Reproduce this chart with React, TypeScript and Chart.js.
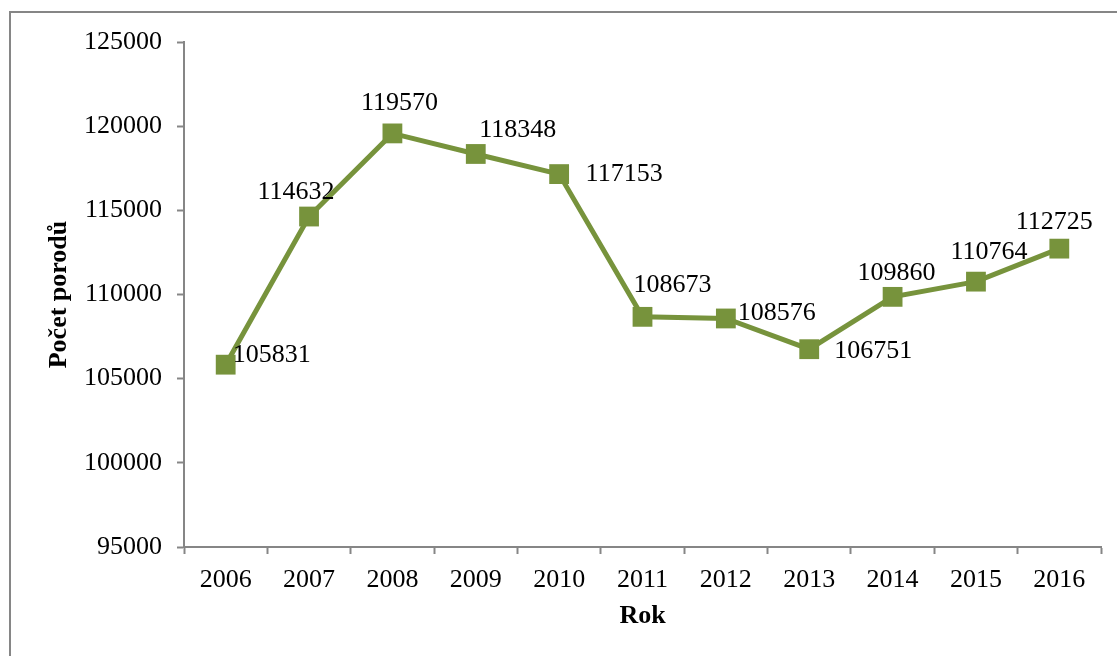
import { useEffect, useRef } from 'react';
import { Chart, registerables } from 'chart.js';

Chart.register(...registerables);

// Number of births per year
const years = ['2006', '2007', '2008', '2009', '2010', '2011', '2012', '2013', '2014', '2015', '2016'];
const births = [105831, 114632, 119570, 118348, 117153, 108673, 108576, 106751, 109860, 110764, 112725];

const yMin = 95000;
const yMax = 125000;
const yStep = 5000;

// Value label placement relative to each marker (dx, dy in px)
const labelOffsets: [number, number][] = [
  [46, -10], [-13, -24], [7, -30], [42, -24], [65, 0], [30, -32],
  [51, -5], [64, 1.5], [4, -24], [13, -29], [-5, -26],
];

const FONT = "'Liberation Serif', 'Times New Roman', serif";
const LINE_COLOR = '#77933C';
const AXIS_COLOR = '#868686';

const frame = {
  id: 'frame',
  beforeDraw(chart: Chart) {
    const ctx = chart.ctx;
    ctx.save();
    ctx.fillStyle = '#ffffff';
    ctx.fillRect(0, 0, chart.width, chart.height);
    ctx.strokeStyle = AXIS_COLOR;
    ctx.lineWidth = 2;
    ctx.strokeRect(10, 12, chart.width + 100, chart.height + 100);
    ctx.restore();
  },
};

const valueLabels = {
  id: 'valueLabels',
  afterDatasetsDraw(chart: Chart) {
    const ctx = chart.ctx;
    const meta = chart.getDatasetMeta(0);
    const values = chart.data.datasets[0].data as number[];
    ctx.save();
    ctx.font = `26px ${FONT}`;
    ctx.fillStyle = '#000000';
    ctx.textAlign = 'center';
    ctx.textBaseline = 'middle';
    meta.data.forEach((pt: any, i: number) => {
      const [dx, dy] = labelOffsets[i] || [0, -24];
      ctx.fillText(String(values[i]), pt.x + dx, pt.y + dy);
    });
    ctx.restore();
  },
};

export default function App() {
  const canvasRef = useRef<HTMLCanvasElement | null>(null);

  useEffect(() => {
    if (!canvasRef.current) return;
    const chart = new Chart(canvasRef.current, {
      type: 'line',
      data: {
        labels: years,
        datasets: [
          {
            label: 'Počet porodů',
            data: births,
            borderColor: LINE_COLOR,
            backgroundColor: LINE_COLOR,
            borderWidth: 5,
            tension: 0,
            pointStyle: 'rect',
            pointRadius: 14,
            pointHoverRadius: 14,
            pointBackgroundColor: LINE_COLOR,
            pointBorderColor: LINE_COLOR,
            pointBorderWidth: 0,
          },
        ],
      },
      options: {
        responsive: false,
        animation: false,
        events: [],
        layout: { padding: { left: 0, top: 42, right: 16, bottom: 0 } },
        plugins: {
          legend: { display: false },
          tooltip: { enabled: false },
        },
        scales: {
          x: {
            type: 'category',
            offset: true,
            grid: {
              offset: true,
              drawOnChartArea: false,
              drawTicks: true,
              tickLength: 7,
              tickColor: AXIS_COLOR,
              tickWidth: 2,
            },
            border: { display: true, color: AXIS_COLOR, width: 2 },
            ticks: {
              color: '#000000',
              font: { family: FONT, size: 26 },
              padding: 11,
              maxRotation: 0,
              autoSkip: false,
            },
            title: {
              display: true,
              text: 'Rok',
              color: '#000000',
              font: { family: FONT, size: 26, weight: 'bold' },
              padding: { top: 0, bottom: 24 },
            },
            afterFit(scale: any) {
              scale.height = 109;
            },
          },
          y: {
            min: yMin,
            max: yMax,
            grid: {
              drawOnChartArea: false,
              drawTicks: true,
              tickLength: 7,
              tickColor: AXIS_COLOR,
              tickWidth: 2,
            },
            border: { display: true, color: AXIS_COLOR, width: 2 },
            ticks: {
              stepSize: yStep,
              color: '#000000',
              font: { family: FONT, size: 26 },
              padding: 15,
              callback: (v: any) => String(v),
            },
            title: {
              display: true,
              text: 'Počet porodů',
              color: '#000000',
              font: { family: FONT, size: 26, weight: 'bold' },
              padding: { top: 44, bottom: 0 },
            },
            afterFit(scale: any) {
              scale.width = 184;
            },
          },
        },
      },
      plugins: [frame, valueLabels],
    });
    return () => chart.destroy();
  }, []);

  return (
    <div style={{ position: 'absolute', left: 0, top: 0, width: 1117, height: 656, background: '#fff' }}>
      <canvas ref={canvasRef} width={1117} height={656} style={{ display: 'block' }} />
    </div>
  );
}
